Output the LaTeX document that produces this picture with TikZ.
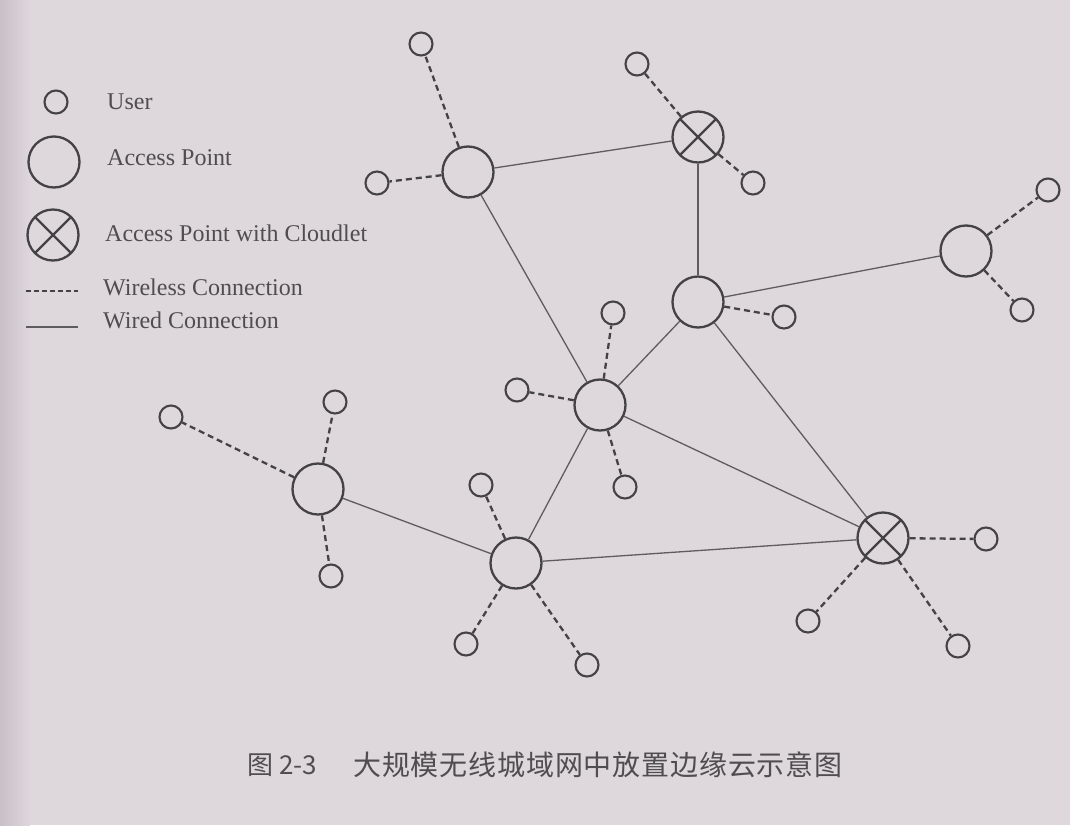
\documentclass[tikz,border=0pt]{standalone}
\usepackage{fontspec}
\setmainfont{Liberation Serif}
\newfontfamily\cjk[LetterSpace=3]{Noto Sans CJK SC}
\newfontfamily\cjkplain{Noto Sans CJK SC}
\definecolor{paper}{RGB}{222,215,220}
\definecolor{paperdark}{RGB}{200,192,198}
\definecolor{ln}{RGB}{68,66,68}
\definecolor{wln}{RGB}{95,92,95}
\definecolor{txt}{RGB}{80,77,80}
\begin{document}
\begin{tikzpicture}[x=1pt,y=-1pt,
  user/.style={circle, draw=ln, line width=2.1pt, minimum size=23pt, inner sep=0pt},
  ap/.style={circle, draw=ln, line width=2.3pt, minimum size=51pt, inner sep=0pt},
  cl/.style={ap, path picture={\draw[ln, line width=2.3pt]
      (path picture bounding box.north west) -- (path picture bounding box.south east)
      (path picture bounding box.north east) -- (path picture bounding box.south west);}},
  wired/.style={draw=wln, line width=1.3pt},
  wless/.style={draw=ln, line width=2.3pt, dash pattern=on 6pt off 4pt},
  lbl/.style={anchor=west, inner sep=0pt, text=txt, font=\fontsize{24}{28}\selectfont}
]
\useasboundingbox (0,0) rectangle (1070,825);
\fill[paper] (0,0) rectangle (1070,825);
\shade[left color=paperdark, right color=paper] (0,0) rectangle (30,825);

% legend
\node[user] (lu) at (56,102) {};
\node[lbl] (lut) at (107,102) {User};
\node[ap] (lap) at (54,162) {};
\node[lbl] (lapt) at (107,158) {Access Point};
\node[cl] (lcl) at (53,235) {};
\node[lbl] (lclt) at (105,233) {Access Point with Cloudlet};
\coordinate (lw1) at (26,291);
\coordinate (lw2) at (78,291);
\draw[wless, line width=1.8pt, dash pattern=on 5pt off 3pt] (lw1) -- (lw2);
\node[lbl] (lwt) at (103,287) {Wireless Connection};
\coordinate (ld1) at (26,327);
\coordinate (ld2) at (78,327);
\draw[wired] (ld1) -- (ld2);
\node[lbl] (ldt) at (103,320) {Wired Connection};

% access points
\node[ap] (ap1) at (468,172) {};
\node[cl] (c1) at (698,137) {};
\node[ap] (ap2) at (698,302) {};
\node[ap] (ap4) at (966,251) {};
\node[ap] (ap3) at (600,405) {};
\node[ap] (ap5) at (318,489) {};
\node[ap] (ap6) at (516,563) {};
\node[cl] (c2) at (883,538) {};

% users
\node[user] (u1) at (421,44) {};
\node[user] (u2) at (377,183) {};
\node[user] (u3) at (637,64) {};
\node[user] (u4) at (753,183) {};
\node[user] (u5) at (784,317) {};
\node[user] (u6) at (1048,190) {};
\node[user] (u7) at (1022,310) {};
\node[user] (u8) at (517,390) {};
\node[user] (u9) at (613,313) {};
\node[user] (u10) at (625,487) {};
\node[user] (u11) at (171,417) {};
\node[user] (u12) at (335,402) {};
\node[user] (u13) at (331,576) {};
\node[user] (u14) at (481,485) {};
\node[user] (u15) at (466,644) {};
\node[user] (u16) at (587,665) {};
\node[user] (u17) at (986,539) {};
\node[user] (u18) at (808,621) {};
\node[user] (u19) at (958,646) {};

% wired
\draw[wired] (ap1) -- (c1);
\draw[wired] (ap1) -- (ap3);
\draw[wired] (c1) -- (ap2);
\draw[wired] (ap2) -- (ap4);
\draw[wired] (ap2) -- (ap3);
\draw[wired] (ap2) -- (c2);
\draw[wired] (ap3) -- (ap6);
\draw[wired] (ap3) -- (c2);
\draw[wired] (ap5) -- (ap6);
\draw[wired] (ap6) -- (c2);

% wireless
\draw[wless] (ap1) -- (u1);
\draw[wless] (ap1) -- (u2);
\draw[wless] (c1) -- (u3);
\draw[wless] (c1) -- (u4);
\draw[wless] (ap2) -- (u5);
\draw[wless] (ap4) -- (u6);
\draw[wless] (ap4) -- (u7);
\draw[wless] (ap3) -- (u8);
\draw[wless] (ap3) -- (u9);
\draw[wless] (ap3) -- (u10);
\draw[wless] (ap5) -- (u11);
\draw[wless] (ap5) -- (u12);
\draw[wless] (ap5) -- (u13);
\draw[wless] (ap6) -- (u14);
\draw[wless] (ap6) -- (u15);
\draw[wless] (ap6) -- (u16);
\draw[wless] (c2) -- (u17);
\draw[wless] (c2) -- (u18);
\draw[wless] (c2) -- (u19);

% caption
\node[anchor=west, inner sep=0pt, text=txt, font=\cjkplain\fontsize{26}{30}\selectfont] (capnum) at (247,765) {图 2-3};
\node[anchor=west, inner sep=0pt, text=txt, font=\cjk\fontsize{28}{32}\selectfont] (cap) at (353,765) {大规模无线城域网中放置边缘云示意图};
\end{tikzpicture}
\end{document}
